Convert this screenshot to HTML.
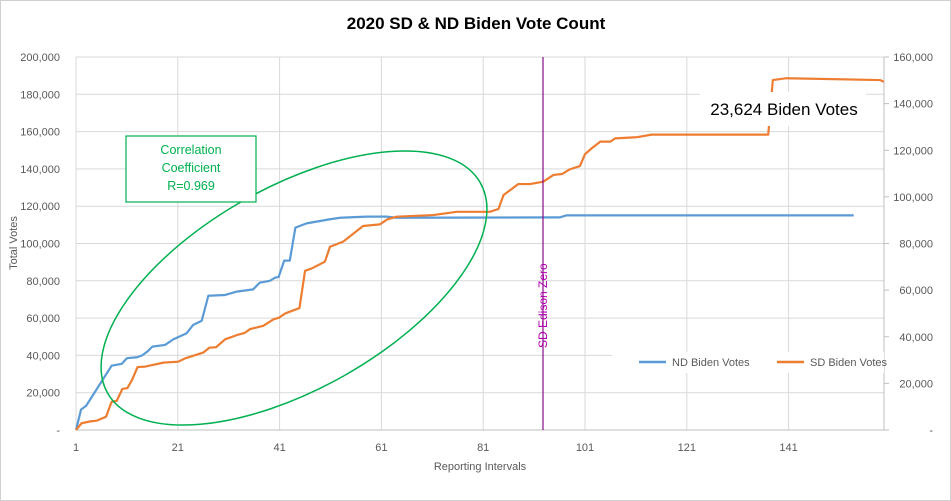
<!DOCTYPE html>
<html><head><meta charset="utf-8"><style>
body{margin:0;background:#fff;}
svg{display:block;font-family:"Liberation Sans",sans-serif;}
</style></head><body>
<svg id="chart" width="951" height="501">
<rect x="0.5" y="0.5" width="950" height="500" fill="#fff" stroke="#d0d0d0"/>
<text x="476" y="29" text-anchor="middle" font-size="17" font-weight="bold" fill="#000">2020 SD &amp; ND Biden Vote Count</text>
<g id="grid"></g>
<g id="axes"></g>
<g id="series"></g>
<text transform="translate(17,243) rotate(-90)" text-anchor="middle" font-size="11" fill="#595959">Total Votes</text>
<text x="480" y="470" text-anchor="middle" font-size="11" fill="#595959">Reporting Intervals</text>
<ellipse cx="294" cy="288" rx="214" ry="101" transform="rotate(-29.4 294 288)" fill="none" stroke="#00b050" stroke-width="1.5"/>
<g>
<rect x="126" y="136" width="130" height="66" fill="#fff" stroke="#00b050" stroke-width="1.2"/>
<text x="191" y="154" text-anchor="middle" font-size="12.5" fill="#00b050">Correlation</text>
<text x="191" y="172" text-anchor="middle" font-size="12.5" fill="#00b050">Coefficient</text>
<text x="191" y="190" text-anchor="middle" font-size="12.5" fill="#00b050">R=0.969</text>
</g>
<line x1="543" y1="57" x2="543" y2="430" stroke="#8b0a8b" stroke-width="1.2"/>
<text transform="translate(547,348) rotate(-90)" font-size="12" fill="#b000b0">SD Edison Zero</text>
<g>
<rect x="612" y="352" width="272" height="21" fill="#fff"/>
<line x1="639" y1="362" x2="666" y2="362" stroke="#5b9bd5" stroke-width="2.5"/>
<text x="672" y="366" font-size="11" fill="#595959">ND Biden Votes</text>
<line x1="777" y1="362" x2="804" y2="362" stroke="#ed7d31" stroke-width="2.5"/>
<text x="810" y="366" font-size="11" fill="#595959">SD Biden Votes</text>
</g>
<g>
<rect x="700" y="92" width="166" height="34" fill="#fff"/>
<text x="784" y="115" text-anchor="middle" font-size="17" fill="#000">23,624 Biden Votes</text>
</g>
</svg>
<script>
const leftTicks=[0,20000,40000,60000,80000,100000,120000,140000,160000,180000,200000];
const rightTicks=[0,20000,40000,60000,80000,100000,120000,140000,160000];
const xTicks=[1,21,41,61,81,101,121,141];
const ndIntervals=[1,2,3,8,10,11,13,14,15,16,18.5,20.1,22.7,24,25.7,27,30.3,32.6,35.8,37.1,39.1,40.1,40.8,41.9,43,44.1,46.3,50.9,52.9,58.1,62,63.9,96,97.4,153.8];
const ndValues=[0,11000,13000,34500,35500,38500,39000,40000,42000,44700,45600,48600,51800,56300,58600,72000,72400,74200,75400,79000,80000,81700,82000,90800,90800,108500,110800,113000,113800,114400,114400,113800,114000,115100,115100];
const sdIntervals=[1,2.1,3.8,5.1,6.9,8,9,10.1,11.1,12,13.1,14.6,18.2,21.1,22.4,26,27.2,28.5,30.3,32.6,34.2,35.2,37.8,39.8,40.9,42.1,44.9,46,47.3,49.9,50.9,53.5,57.4,60.7,62.2,64,71.2,75.8,82.3,84,85,87.9,90.2,92.8,94.8,96.5,98,100,101,102.3,104,106,106.9,111.2,114.1,122.3,137,137.9,140.6,159,159.7];
const sdValues=[0,2900,3700,4000,5700,12100,12500,17600,18000,21400,27000,27200,28900,29300,30700,33200,35300,35500,38900,40700,41700,43300,44700,47500,48200,50000,52300,68300,69300,72200,78600,80800,87500,88200,90400,91500,92200,93600,93600,94800,100800,105500,105500,106500,109400,109800,111800,113200,118300,120800,123700,123700,125100,125600,126700,126700,126700,150100,150900,150100,149400];
const X0=76,X1=884,Y0=430,Y1=57;
const xs=i=>X0+(i-1)*5.09;
const yl=v=>Y0-(v/200000)*(Y0-Y1);
const yr=v=>Y0-(v/160000)*(Y0-Y1);
const NS="http://www.w3.org/2000/svg";
function mk(t,a,p){const e=document.createElementNS(NS,t);for(const k in a)e.setAttribute(k,a[k]);p.appendChild(e);return e;}
const grid=document.getElementById('grid'),axes=document.getElementById('axes'),ser=document.getElementById('series');
const fmt=v=>v===0?'-':v.toLocaleString('en-US');
leftTicks.forEach(v=>{
 const l=mk('line',{x1:X0,x2:X1,y1:yl(v),y2:yl(v),stroke:'#d9d9d9','stroke-width':1},grid);
 
 
 const t=mk('text',{x:60,y:yl(v)+4,'text-anchor':'end','font-size':11,fill:'#595959'},axes);
 t.textContent=fmt(v);
 
 
});
rightTicks.forEach(v=>{
 const l=mk('line',{x1:X1,x2:X1+5,y1:yr(v),y2:yr(v),stroke:'#bfbfbf'},axes);
 
 
 const t=mk('text',{x:933,y:yr(v)+4,'text-anchor':'end','font-size':11,fill:'#595959'},axes);
 t.textContent=fmt(v);
 
 
});
xTicks.forEach(v=>{
 const l=mk('line',{x1:xs(v),x2:xs(v),y1:Y1,y2:Y0,stroke:'#d9d9d9'},grid);
 
 
 const t=mk('text',{x:xs(v),y:451,'text-anchor':'middle','font-size':11,fill:'#595959'},axes);
 t.textContent=v;
 
 
});
const ax=mk('line',{x1:X0,x2:X1,y1:Y0,y2:Y0,stroke:'#bfbfbf'},axes);


const ar=mk('line',{x1:X1,x2:X1,y1:Y1,y2:Y0,stroke:'#bfbfbf'},axes);


const nd=mk('polyline',{points:ndIntervals.map((i,k)=>xs(i)+','+yl(ndValues[k])).join(' '),fill:'none',stroke:'#5b9bd5','stroke-width':2.2,'stroke-linejoin':'round'},ser);


const sd=mk('polyline',{points:sdIntervals.map((i,k)=>xs(i)+','+yr(sdValues[k])).join(' '),fill:'none',stroke:'#ed7d31','stroke-width':2.2,'stroke-linejoin':'round'},ser);


</script>
</body></html>
